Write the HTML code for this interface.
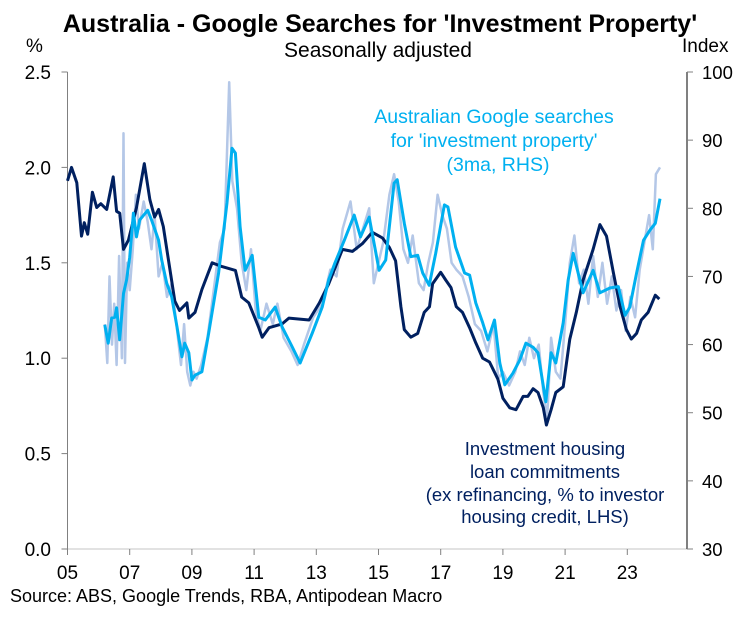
<!DOCTYPE html>
<html><head><meta charset="utf-8"><style>
body{margin:0;background:#fff;width:743px;height:618px;overflow:hidden}
svg{display:block;font-family:"Liberation Sans",Arial,sans-serif}
</style></head><body>
<svg id="c" width="743" height="618" viewBox="0 0 743 618">
<text x="380" y="32" text-anchor="middle" font-size="25" font-weight="bold" fill="#000">Australia - Google Searches for 'Investment Property'</text>
<text x="378" y="57" text-anchor="middle" font-size="21" fill="#000">Seasonally adjusted</text>
<text x="26" y="52" font-size="19" fill="#000">%</text>
<text x="682" y="52" font-size="19" fill="#000">Index</text>
<text x="10" y="602" font-size="18" fill="#000">Source: ABS, Google Trends, RBA, Antipodean Macro</text>
<g font-size="19.5" fill="#00b0f0" text-anchor="middle">
<text x="494" y="123">Australian Google searches</text>
<text x="494" y="147">for 'investment property'</text>
<text x="498" y="171">(3ma, RHS)</text>
</g>
<g font-size="18.5" fill="#002060" text-anchor="middle">
<text x="545" y="455">Investment housing</text>
<text x="545" y="478">loan commitments</text>
<text x="545" y="501">(ex refinancing, % to investor</text>
<text x="545" y="523">housing credit, LHS)</text>
</g>
<g id="axes"></g>
<g id="marks"></g>
</svg>
<script>
const xTicks=["05","07","09","11","13","15","17","19","21","23"];
const leftTicks=[0,0.5,1,1.5,2,2.5];
const rightTicks=[30,40,50,60,70,80,90,100];
const loanYears=[2005.0,2005.13,2005.3,2005.45,2005.54,2005.65,2005.8,2005.94,2006.07,2006.26,2006.47,2006.58,2006.68,2006.8,2006.96,2007.22,2007.47,2007.65,2007.8,2007.93,2008.08,2008.25,2008.45,2008.6,2008.84,2008.9,2009.1,2009.32,2009.65,2009.97,2010.4,2010.6,2010.83,2011.15,2011.26,2011.48,2011.9,2012.12,2012.77,2013.1,2013.4,2013.84,2014.16,2014.48,2014.8,2015.13,2015.35,2015.55,2015.72,2015.83,2016.04,2016.26,2016.47,2016.64,2016.74,2017.0,2017.16,2017.33,2017.5,2017.7,2017.93,2018.13,2018.35,2018.57,2018.84,2019.0,2019.22,2019.42,2019.65,2019.8,2019.97,2020.13,2020.3,2020.4,2020.55,2020.7,2020.94,2021.15,2021.36,2021.58,2021.9,2022.12,2022.33,2022.55,2022.77,2022.97,2023.13,2023.3,2023.45,2023.67,2023.9,2024.03];
const loanValues=[1.93,2.0,1.92,1.64,1.71,1.65,1.87,1.79,1.81,1.78,1.95,1.77,1.76,1.57,1.62,1.79,2.02,1.83,1.74,1.78,1.69,1.51,1.3,1.25,1.29,1.21,1.24,1.36,1.5,1.48,1.46,1.32,1.29,1.16,1.11,1.16,1.18,1.21,1.2,1.29,1.39,1.57,1.56,1.6,1.66,1.63,1.58,1.51,1.27,1.15,1.11,1.13,1.24,1.27,1.39,1.45,1.41,1.37,1.27,1.24,1.16,1.08,1.0,0.98,0.89,0.79,0.74,0.73,0.8,0.8,0.84,0.82,0.74,0.65,0.73,0.82,0.85,1.1,1.24,1.41,1.57,1.7,1.64,1.45,1.27,1.15,1.1,1.13,1.2,1.24,1.33,1.31];
const maYears=[2006.2,2006.31,2006.42,2006.52,2006.58,2006.68,2006.8,2006.9,2007.0,2007.12,2007.22,2007.32,2007.58,2007.7,2007.93,2008.03,2008.19,2008.35,2008.52,2008.68,2008.77,2008.9,2009.0,2009.1,2009.32,2009.54,2009.86,2010.13,2010.29,2010.4,2010.55,2010.71,2010.94,2011.15,2011.36,2011.68,2011.9,2012.23,2012.48,2012.87,2013.19,2013.4,2013.6,2013.9,2014.22,2014.42,2014.7,2015.02,2015.23,2015.5,2015.6,2015.83,2016.04,2016.26,2016.42,2016.63,2016.84,2017.12,2017.23,2017.48,2017.77,2017.93,2018.13,2018.35,2018.52,2018.73,2018.9,2019.06,2019.32,2019.54,2019.74,2019.97,2020.13,2020.38,2020.55,2020.7,2020.94,2021.1,2021.26,2021.58,2021.9,2022.12,2022.44,2022.71,2022.93,2023.08,2023.3,2023.52,2023.73,2023.9,2024.05];
const maValues=[62.9,60.2,63.9,64.0,65.4,60.7,67.5,69.5,72.8,79.3,75.8,78.3,79.7,78.3,75.3,72.4,69.0,67.0,62.6,58.2,60.2,58.8,54.8,55.5,56.0,61.7,70.5,80.8,88.8,88.1,77.3,70.9,73.1,64.0,63.6,65.5,62.6,59.6,57.3,61.7,65.5,69.5,72.0,75.3,79.0,75.8,78.7,70.9,72.4,83.7,84.2,77.8,72.9,73.1,70.5,68.7,73.4,80.5,80.2,74.3,70.5,70.2,66.1,63.2,60.7,63.6,57.3,54.1,55.8,57.7,60.2,59.6,58.8,51.6,58.8,57.3,63.2,69.5,73.4,67.6,70.9,67.6,68.3,68.5,64.3,65.5,70.5,75.3,76.8,77.8,81.4];
const rawYears=[2006.2,2006.28,2006.35,2006.43,2006.5,2006.58,2006.66,2006.75,2006.8,2006.85,2006.92,2007.0,2007.1,2007.2,2007.3,2007.45,2007.58,2007.7,2007.8,2007.93,2008.05,2008.2,2008.35,2008.5,2008.65,2008.75,2008.85,2008.95,2009.05,2009.15,2009.3,2009.5,2009.7,2009.9,2010.05,2010.2,2010.3,2010.45,2010.6,2010.75,2010.9,2011.05,2011.2,2011.4,2011.6,2011.75,2011.95,2012.2,2012.4,2012.6,2012.9,2013.2,2013.45,2013.65,2013.85,2014.1,2014.3,2014.5,2014.7,2014.85,2015.0,2015.15,2015.35,2015.5,2015.65,2015.8,2015.95,2016.1,2016.3,2016.45,2016.6,2016.75,2016.9,2017.05,2017.2,2017.35,2017.5,2017.7,2017.9,2018.1,2018.3,2018.5,2018.7,2018.85,2019.0,2019.2,2019.4,2019.55,2019.7,2019.85,2020.0,2020.15,2020.3,2020.42,2020.55,2020.7,2020.85,2021.0,2021.15,2021.3,2021.45,2021.6,2021.75,2021.9,2022.05,2022.2,2022.35,2022.5,2022.65,2022.8,2022.95,2023.1,2023.25,2023.4,2023.55,2023.7,2023.82,2023.92,2024.05];
const rawValues=[63,57.3,70,60,66,57,73,58,91,57.3,72,68,74,82,77,81,78,74,79,70,72,67,69,63,57,63,56,54,56,55,57,61,68,75,77,98.5,84,80,72,68,74,65,62,66,63,66,61,59,57,60,64,66,71,70,77,81,74,77,80,69,72,75,82,85,81,74,72,76,69,68,72,75,82,79,77,72,71,70,67,63,62,59,63,55,56,54,56,59,57,61,58,60,53,49,61,56,55,63,72,76,69,71,66,73,67,72,66,70,65,68,62,67,64,71,75,79,74,85,86];

const x0=67.5, xPer=31.1, plotR=687, yTop=72, yBot=549;
const xs=y=>x0+(y-2005)*xPer;
const yL=v=>yBot-(v/2.5)*(yBot-yTop);
const yR=v=>yBot-((v-30)/70)*(yBot-yTop);
const NS='http://www.w3.org/2000/svg';
function mk(tag,attrs,parent){const e=document.createElementNS(NS,tag);for(const k in attrs)e.setAttribute(k,attrs[k]);parent.appendChild(e);return e;}
const ax=document.getElementById('axes'), mg=document.getElementById('marks');

let e=mk('line',{x1:x0,y1:yBot,x2:plotR,y2:yBot,stroke:'#d9d9d9','stroke-width':1.5},ax);


e=mk('line',{x1:x0,y1:yTop,x2:x0,y2:yBot,stroke:'#808080','stroke-width':1},ax);


e=mk('line',{x1:plotR,y1:yTop,x2:plotR,y2:yBot,stroke:'#000','stroke-width':1},ax);


xTicks.forEach((t,i)=>{const X=xs(2005+2*i);
 e=mk('line',{x1:X,y1:yBot,x2:X,y2:yBot+6,stroke:'#808080'},ax);
 
 
 e=mk('text',{x:X,y:579,'text-anchor':'middle','font-size':19},ax);e.textContent=t;
 
 });
leftTicks.forEach(v=>{const Y=yL(v);
 e=mk('line',{x1:x0-6,y1:Y,x2:x0,y2:Y,stroke:'#808080'},ax);
 
 
 e=mk('text',{x:51,y:Y+7,'text-anchor':'end','font-size':19},ax);e.textContent=v.toFixed(1);
 
 });
rightTicks.forEach(v=>{const Y=yR(v);
 e=mk('line',{x1:plotR,y1:Y,x2:plotR+6,y2:Y,stroke:'#808080'},ax);
 
 
 e=mk('text',{x:702,y:Y+7,'font-size':18.5},ax);e.textContent=v;
 
 });
function pts(ys,vs,f){return ys.map((y,i)=>xs(y).toFixed(1)+','+f(vs[i]).toFixed(1)).join(' ');}
e=mk('polyline',{points:pts(rawYears,rawValues,yR),fill:'none',stroke:'#b4c7e7','stroke-width':2.5,'stroke-linejoin':'round'},mg);


e=mk('polyline',{points:pts(loanYears,loanValues,yL),fill:'none',stroke:'#002060','stroke-width':3,'stroke-linejoin':'round'},mg);


e=mk('polyline',{points:pts(maYears,maValues,yR),fill:'none',stroke:'#00b0f0','stroke-width':3,'stroke-linejoin':'round'},mg);


</script>
</body></html>
